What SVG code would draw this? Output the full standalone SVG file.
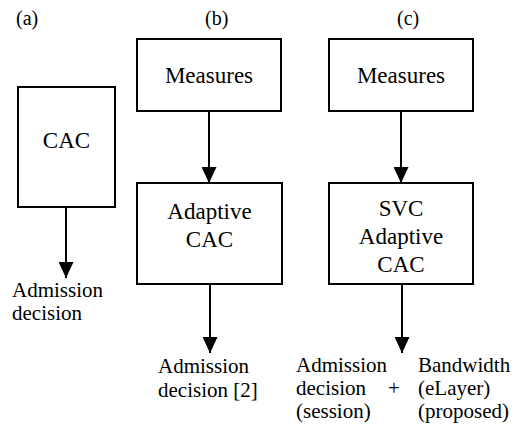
<svg xmlns="http://www.w3.org/2000/svg" width="514" height="425" viewBox="0 0 514 425">
  <defs>
    <style>
      .box { fill: #fff; stroke: #000; stroke-width: 2; }
      .bt { font-family: 'Liberation Serif', 'Times New Roman', serif; font-size: 23px; fill: #000; text-anchor: middle; }
      .lb { font-family: 'Liberation Serif', 'Times New Roman', serif; font-size: 21px; fill: #000; }
      .hd { font-family: 'Liberation Serif', 'Times New Roman', serif; font-size: 20px; fill: #000; }
      .conn { stroke: #000; stroke-width: 2; fill: none; marker-end: url(#arrow); }
    </style>
    <marker id="arrow" markerUnits="userSpaceOnUse" markerWidth="16" markerHeight="15" refX="16" refY="7.5" orient="auto">
      <path d="M0,0 L16,7.5 L0,15 z" fill="#000"/>
    </marker>
  </defs>
  <rect width="514" height="425" fill="#fff"/>

  <g id="headings">
    <text class="hd" x="16" y="25">(a)</text>
    <text class="hd" x="205" y="25">(b)</text>
    <text class="hd" x="397" y="25">(c)</text>
  </g>

  <g id="cac-a">
    <rect class="box" x="18" y="87" width="97" height="120"/>
    <text class="bt" x="66.5" y="148">CAC</text>
  </g>

  <g id="measures-b">
    <rect class="box" x="137" y="39" width="144" height="72"/>
    <text class="bt" x="209" y="83">Measures</text>
  </g>

  <g id="adaptive-cac-b">
    <rect class="box" x="137" y="183" width="145" height="101"/>
    <text class="bt" x="209.5" y="219">Adaptive</text>
    <text class="bt" x="209.5" y="247">CAC</text>
  </g>

  <g id="measures-c">
    <rect class="box" x="329" y="39" width="144" height="72"/>
    <text class="bt" x="401" y="83">Measures</text>
  </g>

  <g id="svc-adaptive-cac-c">
    <rect class="box" x="329" y="183" width="144" height="101"/>
    <text class="bt" x="401" y="216">SVC</text>
    <text class="bt" x="401" y="244">Adaptive</text>
    <text class="bt" x="401" y="272">CAC</text>
  </g>

  <g id="connectors">
    <line class="conn" x1="66" y1="207" x2="66" y2="278"/>
    <line class="conn" x1="209" y1="111" x2="209" y2="183"/>
    <line class="conn" x1="210" y1="284" x2="210" y2="353"/>
    <line class="conn" x1="401" y1="111" x2="401" y2="183"/>
    <line class="conn" x1="402" y1="284" x2="402" y2="353"/>
  </g>

  <g id="label-a">
    <text class="lb" x="12" y="297">Admission</text>
    <text class="lb" x="12" y="320">decision</text>
  </g>

  <g id="label-b">
    <text class="lb" x="158" y="373">Admission</text>
    <text class="lb" x="158" y="397">decision [2]</text>
  </g>

  <g id="label-c">
    <text class="lb" x="296" y="372">Admission</text>
    <text class="lb" x="296" y="395">decision</text>
    <text class="lb" x="296" y="418">(session)</text>
    <text class="lb" x="388" y="395">+</text>
    <text class="lb" x="418" y="372">Bandwidth</text>
    <text class="lb" x="418" y="395">(eLayer)</text>
    <text class="lb" x="418" y="418">(proposed)</text>
  </g>
</svg>
